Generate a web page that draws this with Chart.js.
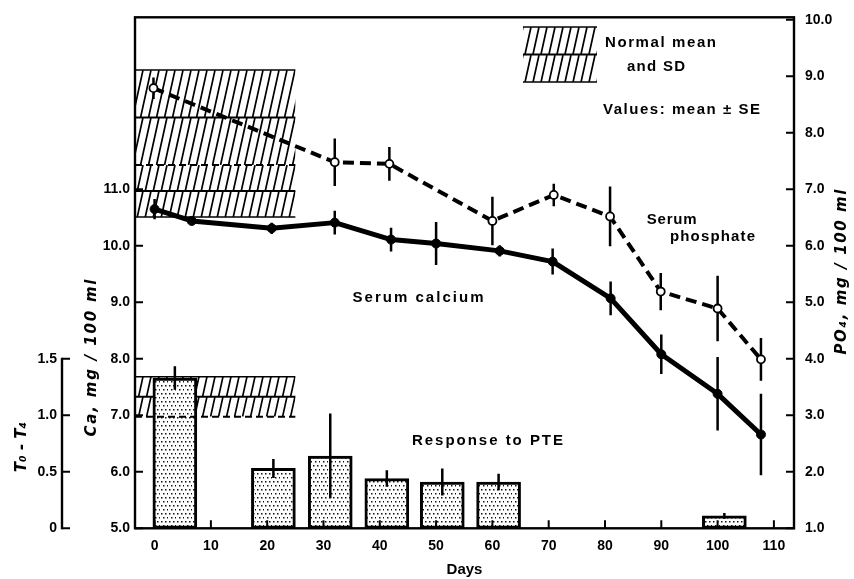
<!DOCTYPE html>
<html><head><meta charset="utf-8">
<script src="https://cdn.jsdelivr.net/npm/chart.js@4.4.0/dist/chart.umd.min.js"></script>
<style>html,body{margin:0;padding:0;background:#fff;}canvas{display:block;}</style>
</head><body>
<canvas id="c" width="854" height="579"></canvas>
<script>
// ---------- data ----------
const X_TICKS = [0, 10, 20, 30, 40, 50, 60, 70, 80, 90, 100, 110];
const CA_TICKS = [5, 6, 7, 8, 9, 10, 11];
const PO4_TICKS = [1, 2, 3, 4, 5, 6, 7, 8, 9, 10];
const T_TICKS = [0, 0.5, 1, 1.5];

const CA_DAYS = [0, 6.6, 20.8, 32, 42, 50, 61.3, 70.7, 81, 90, 100, 107.7];
const CA_MEAN = [10.65, 10.44, 10.31, 10.41, 10.11, 10.04, 9.91, 9.72, 9.07, 8.08, 7.38, 6.66];
const CA_SE   = [0.18, 0.07, 0.10, 0.21, 0.21, 0.38, 0.10, 0.23, 0.30, 0.35, 0.65, 0.72];

const PO4_DAYS = [-0.2, 32, 41.7, 60, 70.9, 80.9, 89.9, 100, 107.7];
const PO4_MEAN = [8.79, 7.48, 7.45, 6.44, 6.90, 6.52, 5.19, 4.89, 3.99];
const PO4_SE   = [0.19, 0.42, 0.30, 0.43, 0.20, 0.53, 0.33, 0.58, 0.38];

const PTE_DAYS = [3.6, 21.1, 31.2, 41.25, 51.1, 61.1, 101.2];
const PTE_RESP = [1.33, 0.53, 0.64, 0.44, 0.41, 0.41, 0.11];
const PTE_SE   = [0.105, 0.084, 0.375, 0.073, 0.12, 0.073, 0.025];

// normal mean and SD bands
const PO4_NORMAL = [8.27, 0.84];   // mean, SD
const CA_NORMAL  = [10.97, 0.46];
const T_NORMAL   = [1.165, 0.177];
const NORMAL_END_DAY = 25;

// axis ranges
const X_MIN = -3.48, X_MAX = 113.57;
const CA_MIN = 5, CA_MAX = 14.044;
const PO4_MIN = 1, PO4_MAX = 10.044;
const T_MIN = 0, T_MAX = 4.522;

// ---------- styling helpers ----------
const FAM = "'Liberation Sans', Arial, sans-serif";
Chart.defaults.font.family = FAM;
Chart.defaults.color = '#000';

const pc = document.createElement('canvas'); pc.width = 8; pc.height = 8;
const pctx = pc.getContext('2d');
pctx.fillStyle = '#fff'; pctx.fillRect(0, 0, 8, 8);
pctx.fillStyle = '#111';
[[1,1],[5,1],[3,5],[7,5]].forEach(p => pctx.fillRect(p[0], p[1], 1.5, 1.5));
const mainCtx = document.getElementById('c').getContext('2d');
const dotPattern = mainCtx.createPattern(pc, 'repeat');

function spaced(ctx, text, cx, cy, width, font, rot) {
  ctx.save();
  ctx.font = font; ctx.fillStyle = '#000';
  ctx.textBaseline = 'middle'; ctx.textAlign = 'left';
  if ('letterSpacing' in ctx) ctx.letterSpacing = '0px';
  const w0 = ctx.measureText(text).width;
  const n = text.length;
  let w = w0;
  if ('letterSpacing' in ctx && n > 1 && width > w0) { ctx.letterSpacing = ((width - w0) / (n - 1)) + 'px'; w = width; }
  ctx.translate(cx, cy);
  if (rot) ctx.rotate(rot);
  ctx.fillText(text, -w / 2, 0);
  ctx.restore();
}

function hatch(ctx, x0, x1, yTop, yBot) {
  const h = yBot - yTop;
  const sl = h * 0.22;
  ctx.save();
  ctx.beginPath(); ctx.rect(x0, yTop, x1 - x0, h); ctx.clip();
  ctx.strokeStyle = '#000'; ctx.lineWidth = 1.7;
  ctx.beginPath();
  for (let x = x0 - sl; x < x1 + 8; x += 8) { ctx.moveTo(x, yBot); ctx.lineTo(x + sl, yTop); }
  ctx.stroke();
  ctx.restore();
}

function hline(ctx, x0, x1, y, lw, dash) {
  ctx.save();
  ctx.strokeStyle = '#000'; ctx.lineWidth = lw;
  ctx.setLineDash(dash || []);
  ctx.beginPath(); ctx.moveTo(x0, y); ctx.lineTo(x1, y); ctx.stroke();
  ctx.restore();
}

function errBars(chart, yid, xs, ms, es, lw) {
  const ctx = chart.ctx, sx = chart.scales.x, sy = chart.scales[yid];
  ctx.save(); ctx.strokeStyle = '#000'; ctx.lineWidth = lw; ctx.lineCap = 'butt';
  ctx.beginPath();
  xs.forEach((d, i) => {
    const px = sx.getPixelForValue(d);
    ctx.moveTo(px, sy.getPixelForValue(ms[i] + es[i]));
    ctx.lineTo(px, sy.getPixelForValue(ms[i] - es[i]));
  });
  ctx.stroke(); ctx.restore();
}

const decor = {
  id: 'decor',
  beforeDatasetsDraw(chart) {
    const ctx = chart.ctx, a = chart.chartArea, sx = chart.scales.x;
    const po = chart.scales.y2, ca = chart.scales.y, t = chart.scales.yT;
    const x0 = a.left, x1 = sx.getPixelForValue(NORMAL_END_DAY);
    const pTop = po.getPixelForValue(PO4_NORMAL[0] + PO4_NORMAL[1]);
    const pMean = po.getPixelForValue(PO4_NORMAL[0]);
    const pBot = po.getPixelForValue(PO4_NORMAL[0] - PO4_NORMAL[1]);
    const cTop = ca.getPixelForValue(CA_NORMAL[0] + CA_NORMAL[1]);
    const cMean = ca.getPixelForValue(CA_NORMAL[0]);
    const cBot = ca.getPixelForValue(CA_NORMAL[0] - CA_NORMAL[1]);
    const lv = [pTop, pMean, pBot, cTop, cMean, cBot].sort((p, q) => p - q);
    for (let i = 0; i < lv.length - 1; i++) if (lv[i + 1] - lv[i] > 1) hatch(ctx, x0, x1, lv[i], lv[i + 1]);
    hline(ctx, x0, x1, pTop, 1.5);
    hline(ctx, x0, x1, pMean, 2);
    hline(ctx, x0, x1, pBot, 2, [7, 4]);
    hline(ctx, x0, x1, cMean, 2);
    hline(ctx, x0, x1, cBot, 1.5);
    const tTop = t.getPixelForValue(T_NORMAL[0] + T_NORMAL[1]);
    const tMean = t.getPixelForValue(T_NORMAL[0]);
    const tBot = t.getPixelForValue(T_NORMAL[0] - T_NORMAL[1]);
    hatch(ctx, x0, x1, tTop, tMean);
    hatch(ctx, x0, x1, tMean, tBot);
    hline(ctx, x0, x1, tTop, 1.5);
    hline(ctx, x0, x1, tMean, 2);
  },
  beforeDatasetDraw(chart, args) {
    if (args.index === 0) errBars(chart, 'y', CA_DAYS, CA_MEAN, CA_SE, 2.5);
    if (args.index === 1) errBars(chart, 'y2', PO4_DAYS, PO4_MEAN, PO4_SE, 2.5);
  },
  afterDatasetDraw(chart, args) {
    if (args.index === 2) {
      errBars(chart, 'yT', PTE_DAYS, PTE_RESP, PTE_SE, 2.5);
      const t = chart.scales.yT, sx = chart.scales.x;
      hline(chart.ctx, chart.chartArea.left, sx.getPixelForValue(NORMAL_END_DAY), t.getPixelForValue(T_NORMAL[0] - T_NORMAL[1]), 2, [7, 4]);
    }
  },
  afterDraw(chart) {
    const ctx = chart.ctx, a = chart.chartArea;
    const sx = chart.scales.x, ca = chart.scales.y, po = chart.scales.y2, t = chart.scales.yT;
    ctx.save();
    ctx.strokeStyle = '#000'; ctx.lineCap = 'butt';
    ctx.lineWidth = 2.4;
    ctx.strokeRect(a.left, a.top, a.right - a.left, a.bottom - a.top);
    ctx.lineWidth = 2;
    ctx.beginPath();
    CA_TICKS.forEach(v => { const y = ca.getPixelForValue(v); ctx.moveTo(a.left, y); ctx.lineTo(a.left + 8, y); });
    PO4_TICKS.forEach(v => { const y = po.getPixelForValue(v); ctx.moveTo(a.right, y); ctx.lineTo(a.right - 8, y); });
    X_TICKS.forEach(v => { const x = sx.getPixelForValue(v); ctx.moveTo(x, a.bottom); ctx.lineTo(x, a.bottom - 8); });
    const tx = t.right - 8;
    T_TICKS.forEach(v => { const y = t.getPixelForValue(v); ctx.moveTo(tx, y); ctx.lineTo(tx + 8, y); });
    ctx.stroke();
    ctx.lineWidth = 2.4;
    ctx.beginPath();
    ctx.moveTo(tx, t.getPixelForValue(T_TICKS[0]) + 1);
    ctx.lineTo(tx, t.getPixelForValue(T_TICKS[T_TICKS.length - 1]) - 1);
    ctx.stroke();
    hatch(ctx, 523, 597, 27, 54);
    hatch(ctx, 523, 597, 55, 82);
    hline(ctx, 523, 597, 27, 1.5);
    hline(ctx, 523, 597, 54.5, 2);
    hline(ctx, 523, 597, 82, 1.5);
    ctx.restore();

    const F = "bold 15px " + FAM;
    spaced(ctx, 'Normal mean', 660.5, 43, 111, F);
    spaced(ctx, 'and SD', 656, 67, 58, F);
    spaced(ctx, 'Values: mean ± SE', 681.5, 110, 157, F);
    spaced(ctx, 'Serum', 671.7, 220, 50, F);
    spaced(ctx, 'phosphate', 712.5, 237, 85, F);
    spaced(ctx, 'Serum calcium', 418, 298, 131, F);
    spaced(ctx, 'Response to PTE', 487.5, 441, 151, F);
    const TF = "italic bold 15px 'DejaVu Sans', " + FAM;
    spaced(ctx, 'Ca, mg / 100 ml', 92, 358, 157, TF, -Math.PI / 2);
    spaced(ctx, 'PO₄, mg / 100 ml', 842, 272, 165, TF, -Math.PI / 2);
    spaced(ctx, 'T₀ - T₄', 22, 447, 42, TF, -Math.PI / 2);
  }
};

function fixAxis(w, h) {
  return s => {
    if (w !== null) s.width = w;
    if (h !== null) s.height = h;
    s.paddingTop = 0; s.paddingBottom = 0; s.paddingLeft = 0; s.paddingRight = 0;
  };
}
const tickFont = { family: FAM, size: 14, weight: 'bold' };

new Chart(mainCtx, {
  type: 'line',
  data: {
    datasets: [
      {
        label: 'Serum calcium', yAxisID: 'y',
        data: CA_DAYS.map((d, i) => ({ x: d, y: CA_MEAN[i] })),
        borderColor: '#000', borderWidth: 5, borderJoinStyle: 'round', borderCapStyle: 'round',
        pointRadius: 4.5, pointBackgroundColor: '#000', pointBorderColor: '#000', pointBorderWidth: 1,
        tension: 0, fill: false
      },
      {
        label: 'Serum phosphate', yAxisID: 'y2',
        data: PO4_DAYS.map((d, i) => ({ x: d, y: PO4_MEAN[i] })),
        borderColor: '#000', borderWidth: 4, borderDash: [11, 6],
        pointRadius: 4, pointBackgroundColor: '#fff', pointBorderColor: '#000', pointBorderWidth: 1.8,
        tension: 0, fill: false
      },
      {
        type: 'bar', label: 'Response to PTE', yAxisID: 'yT',
        data: PTE_DAYS.map((d, i) => ({ x: d, y: PTE_RESP[i] })),
        backgroundColor: dotPattern, borderColor: '#000', borderWidth: 3, borderSkipped: false,
        barThickness: 44
      }
    ]
  },
  options: {
    responsive: false, animation: false, devicePixelRatio: 1,
    layout: { padding: { top: 17.3, left: 0, right: 0, bottom: 0 } },
    plugins: { legend: { display: false }, tooltip: { enabled: false } },
    scales: {
      x: {
        type: 'linear', position: 'bottom', min: X_MIN, max: X_MAX, offset: false,
        afterBuildTicks: s => { s.ticks = X_TICKS.map(v => ({ value: v })); },
        afterFit: fixAxis(null, 50.7),
        grid: { display: false, drawTicks: false }, border: { display: false },
        ticks: { padding: 9, font: tickFont, color: '#000', autoSkip: false, maxRotation: 0, callback: v => String(v) },
        title: { display: true, text: 'Days', color: '#000', font: { family: FAM, size: 15, weight: 'bold' }, padding: { top: 0, bottom: 0 } }
      },
      y: {
        type: 'linear', position: 'left', min: CA_MIN, max: CA_MAX, weight: 0,
        afterBuildTicks: s => { s.ticks = CA_TICKS.map(v => ({ value: v })); },
        afterFit: fixAxis(65, null),
        grid: { display: false, drawTicks: false }, border: { display: false },
        ticks: { padding: 5, font: tickFont, color: '#000', callback: v => v.toFixed(1) }
      },
      yT: {
        type: 'linear', position: 'left', min: T_MIN, max: T_MAX, weight: 1,
        afterBuildTicks: s => { s.ticks = T_TICKS.map(v => ({ value: v })); },
        afterFit: fixAxis(70, null),
        grid: { display: false, drawTicks: false }, border: { display: false },
        ticks: { padding: 13, font: tickFont, color: '#000', callback: v => (v === 0 ? '0' : v.toFixed(1)) }
      },
      y2: {
        type: 'linear', position: 'right', min: PO4_MIN, max: PO4_MAX,
        afterBuildTicks: s => { s.ticks = PO4_TICKS.map(v => ({ value: v })); },
        afterFit: fixAxis(60, null),
        grid: { display: false, drawTicks: false }, border: { display: false },
        ticks: { padding: 11, font: tickFont, color: '#000', callback: v => v.toFixed(1) }
      }
    }
  },
  plugins: [decor]
});
</script>
</body></html>
